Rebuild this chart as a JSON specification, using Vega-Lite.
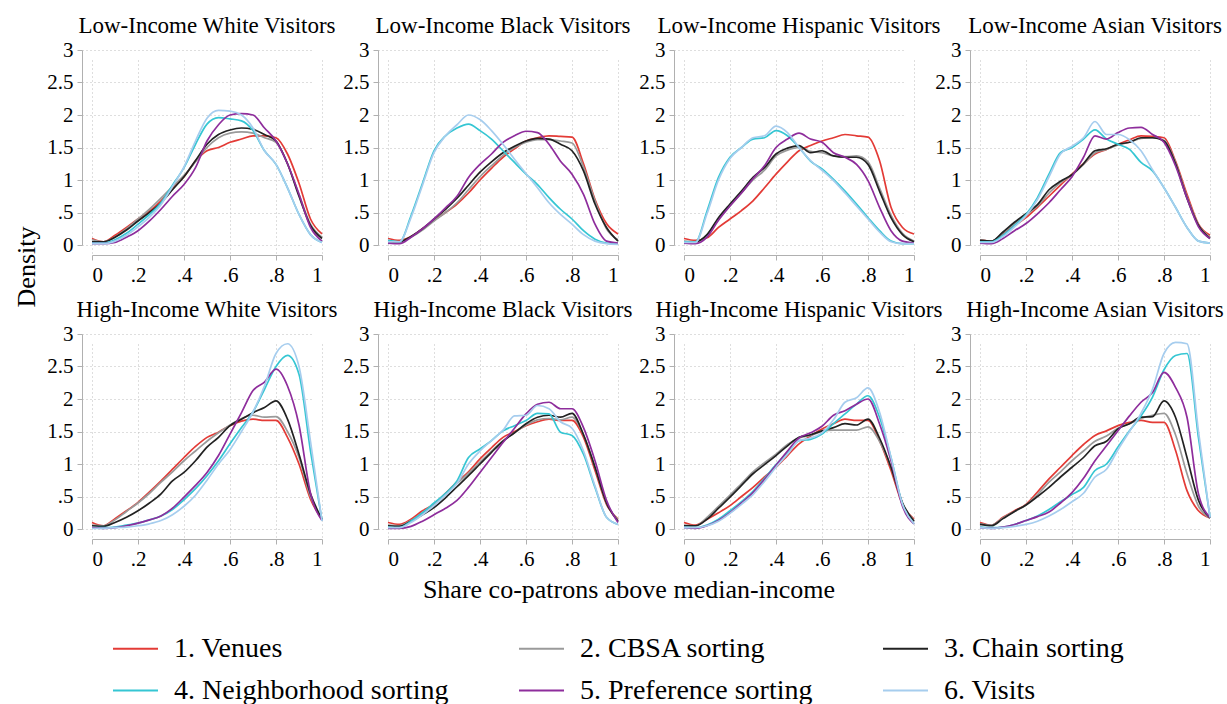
{
"$schema":"https://vega.github.io/schema/vega-lite/v6.json",
"background":"white",
"padding":{"left":12,"top":15,"right":5,"bottom":5},
"config":{"font":"Liberation Serif","view":{"stroke":null},
 "axis":{"title":null,"labelFont":"Liberation Serif","labelFontSize":21,"labelColor":"#000","domainColor":"#b0b0b0","tickColor":"#b0b0b0","tickSize":5,"labelPadding":4,"grid":true,"gridColor":"#bdbdbd","gridDash":[1,3],"offset":10,"format":"~g","labelExpr":"indexof(datum.label,'0.')==0 ? substring(datum.label,1) : datum.label"},
 "legend":{"orient":"none","legendX":100,"legendY":575,"direction":"horizontal","columns":3,"title":null,"symbolType":"stroke","symbolSize":2025,"symbolStrokeWidth":2,"labelFontSize":28,"labelFont":"Liberation Serif","labelColor":"#000","columnPadding":66,"rowPadding":4,"labelOffset":15,"labelLimit":500}
},
"data":{"values":[
{"p":"LW","x":0,"a":0.10,"b":0.08,"c":0.05,"d":0.03,"e":0.02,"f":0.02},
{"p":"LW","x":0.05,"a":0.05,"b":0.05,"c":0.05,"d":0.03,"e":0.02,"f":0.02},
{"p":"LW","x":0.1,"a":0.15,"b":0.12,"c":0.12,"d":0.08,"e":0.04,"f":0.06},
{"p":"LW","x":0.15,"a":0.27,"b":0.25,"c":0.23,"d":0.18,"e":0.12,"f":0.15},
{"p":"LW","x":0.2,"a":0.40,"b":0.40,"c":0.37,"d":0.32,"e":0.22,"f":0.28},
{"p":"LW","x":0.25,"a":0.52,"b":0.55,"c":0.50,"d":0.47,"e":0.37,"f":0.43},
{"p":"LW","x":0.3,"a":0.68,"b":0.72,"c":0.65,"d":0.65,"e":0.55,"f":0.62},
{"p":"LW","x":0.35,"a":0.88,"b":0.90,"c":0.85,"d":0.92,"e":0.75,"f":0.90},
{"p":"LW","x":0.4,"a":1.05,"b":1.07,"c":1.05,"d":1.19,"e":0.93,"f":1.20},
{"p":"LW","x":0.45,"a":1.29,"b":1.28,"c":1.30,"d":1.55,"e":1.19,"f":1.60},
{"p":"LW","x":0.5,"a":1.45,"b":1.50,"c":1.55,"d":1.86,"e":1.60,"f":1.95},
{"p":"LW","x":0.55,"a":1.50,"b":1.65,"c":1.70,"d":1.96,"e":1.85,"f":2.07},
{"p":"LW","x":0.6,"a":1.58,"b":1.72,"c":1.77,"d":1.94,"e":2.00,"f":2.06},
{"p":"LW","x":0.65,"a":1.63,"b":1.74,"c":1.80,"d":1.91,"e":2.02,"f":2.00},
{"p":"LW","x":0.7,"a":1.68,"b":1.72,"c":1.78,"d":1.76,"e":2.00,"f":1.80},
{"p":"LW","x":0.75,"a":1.68,"b":1.65,"c":1.70,"d":1.45,"e":1.80,"f":1.45},
{"p":"LW","x":0.8,"a":1.65,"b":1.58,"c":1.60,"d":1.24,"e":1.60,"f":1.24},
{"p":"LW","x":0.85,"a":1.40,"b":1.25,"c":1.25,"d":0.88,"e":1.25,"f":0.88},
{"p":"LW","x":0.9,"a":0.95,"b":0.78,"c":0.75,"d":0.47,"e":0.78,"f":0.47},
{"p":"LW","x":0.95,"a":0.40,"b":0.32,"c":0.30,"d":0.16,"e":0.27,"f":0.16},
{"p":"LW","x":1,"a":0.17,"b":0.12,"c":0.10,"d":0.04,"e":0.06,"f":0.04},
{"p":"LB","x":0,"a":0.10,"b":0.06,"c":0.05,"d":0.07,"e":0.03,"f":0.05},
{"p":"LB","x":0.05,"a":0.07,"b":0.05,"c":0.05,"d":0.05,"e":0.02,"f":0.05},
{"p":"LB","x":0.1,"a":0.13,"b":0.12,"c":0.13,"d":0.45,"e":0.12,"f":0.42},
{"p":"LB","x":0.15,"a":0.25,"b":0.23,"c":0.25,"d":0.95,"e":0.25,"f":0.92},
{"p":"LB","x":0.2,"a":0.38,"b":0.37,"c":0.40,"d":1.45,"e":0.40,"f":1.42},
{"p":"LB","x":0.25,"a":0.50,"b":0.50,"c":0.55,"d":1.68,"e":0.57,"f":1.68},
{"p":"LB","x":0.3,"a":0.63,"b":0.65,"c":0.72,"d":1.80,"e":0.75,"f":1.85},
{"p":"LB","x":0.35,"a":0.80,"b":0.85,"c":0.92,"d":1.86,"e":1.04,"f":2.00},
{"p":"LB","x":0.4,"a":1.00,"b":1.05,"c":1.12,"d":1.76,"e":1.24,"f":1.93},
{"p":"LB","x":0.45,"a":1.18,"b":1.22,"c":1.28,"d":1.63,"e":1.40,"f":1.76},
{"p":"LB","x":0.5,"a":1.35,"b":1.38,"c":1.42,"d":1.45,"e":1.58,"f":1.55},
{"p":"LB","x":0.55,"a":1.48,"b":1.50,"c":1.52,"d":1.27,"e":1.68,"f":1.32},
{"p":"LB","x":0.6,"a":1.60,"b":1.58,"c":1.60,"d":1.09,"e":1.75,"f":1.10},
{"p":"LB","x":0.65,"a":1.65,"b":1.62,"c":1.64,"d":0.93,"e":1.73,"f":0.88},
{"p":"LB","x":0.7,"a":1.68,"b":1.62,"c":1.63,"d":0.73,"e":1.55,"f":0.65},
{"p":"LB","x":0.75,"a":1.67,"b":1.60,"c":1.55,"d":0.55,"e":1.29,"f":0.47},
{"p":"LB","x":0.8,"a":1.66,"b":1.57,"c":1.45,"d":0.40,"e":1.09,"f":0.32},
{"p":"LB","x":0.85,"a":1.25,"b":1.20,"c":1.14,"d":0.22,"e":0.78,"f":0.16},
{"p":"LB","x":0.9,"a":0.70,"b":0.68,"c":0.63,"d":0.09,"e":0.32,"f":0.06},
{"p":"LB","x":0.95,"a":0.33,"b":0.25,"c":0.27,"d":0.03,"e":0.06,"f":0.02},
{"p":"LB","x":1,"a":0.17,"b":0.08,"c":0.06,"d":0.02,"e":0.03,"f":0.01},
{"p":"LH","x":0,"a":0.10,"b":0.06,"c":0.05,"d":0.05,"e":0.03,"f":0.04},
{"p":"LH","x":0.05,"a":0.07,"b":0.05,"c":0.05,"d":0.05,"e":0.02,"f":0.04},
{"p":"LH","x":0.1,"a":0.11,"b":0.15,"c":0.16,"d":0.52,"e":0.12,"f":0.48},
{"p":"LH","x":0.15,"a":0.27,"b":0.40,"c":0.42,"d":1.04,"e":0.38,"f":1.00},
{"p":"LH","x":0.2,"a":0.40,"b":0.60,"c":0.63,"d":1.35,"e":0.60,"f":1.33},
{"p":"LH","x":0.25,"a":0.53,"b":0.80,"c":0.83,"d":1.50,"e":0.80,"f":1.50},
{"p":"LH","x":0.3,"a":0.68,"b":1.00,"c":1.04,"d":1.63,"e":1.02,"f":1.65},
{"p":"LH","x":0.35,"a":0.88,"b":1.15,"c":1.19,"d":1.65,"e":1.22,"f":1.68},
{"p":"LH","x":0.4,"a":1.09,"b":1.37,"c":1.40,"d":1.76,"e":1.50,"f":1.83},
{"p":"LH","x":0.45,"a":1.28,"b":1.46,"c":1.49,"d":1.68,"e":1.63,"f":1.73},
{"p":"LH","x":0.5,"a":1.45,"b":1.50,"c":1.53,"d":1.50,"e":1.72,"f":1.50},
{"p":"LH","x":0.55,"a":1.53,"b":1.44,"c":1.42,"d":1.29,"e":1.63,"f":1.30},
{"p":"LH","x":0.6,"a":1.60,"b":1.42,"c":1.45,"d":1.17,"e":1.58,"f":1.15},
{"p":"LH","x":0.65,"a":1.65,"b":1.37,"c":1.37,"d":1.01,"e":1.42,"f":0.99},
{"p":"LH","x":0.7,"a":1.70,"b":1.36,"c":1.35,"d":0.83,"e":1.35,"f":0.80},
{"p":"LH","x":0.75,"a":1.68,"b":1.37,"c":1.35,"d":0.63,"e":1.24,"f":0.60},
{"p":"LH","x":0.8,"a":1.66,"b":1.28,"c":1.24,"d":0.42,"e":0.99,"f":0.40},
{"p":"LH","x":0.85,"a":1.30,"b":0.88,"c":0.83,"d":0.22,"e":0.58,"f":0.20},
{"p":"LH","x":0.9,"a":0.58,"b":0.46,"c":0.42,"d":0.06,"e":0.22,"f":0.05},
{"p":"LH","x":0.95,"a":0.27,"b":0.18,"c":0.16,"d":0.02,"e":0.06,"f":0.02},
{"p":"LH","x":1,"a":0.17,"b":0.06,"c":0.05,"d":0.02,"e":0.03,"f":0.02},
{"p":"LA","x":0,"a":0.08,"b":0.08,"c":0.07,"d":0.05,"e":0.03,"f":0.04},
{"p":"LA","x":0.05,"a":0.06,"b":0.06,"c":0.06,"d":0.05,"e":0.02,"f":0.04},
{"p":"LA","x":0.1,"a":0.17,"b":0.19,"c":0.20,"d":0.15,"e":0.10,"f":0.13},
{"p":"LA","x":0.15,"a":0.30,"b":0.33,"c":0.35,"d":0.30,"e":0.22,"f":0.28},
{"p":"LA","x":0.2,"a":0.42,"b":0.46,"c":0.48,"d":0.47,"e":0.33,"f":0.45},
{"p":"LA","x":0.25,"a":0.58,"b":0.60,"c":0.62,"d":0.73,"e":0.48,"f":0.70},
{"p":"LA","x":0.3,"a":0.75,"b":0.80,"c":0.85,"d":1.09,"e":0.65,"f":1.05},
{"p":"LA","x":0.35,"a":0.92,"b":0.96,"c":0.98,"d":1.42,"e":0.85,"f":1.40},
{"p":"LA","x":0.4,"a":1.09,"b":1.08,"c":1.08,"d":1.50,"e":1.05,"f":1.52},
{"p":"LA","x":0.45,"a":1.25,"b":1.24,"c":1.25,"d":1.63,"e":1.35,"f":1.65},
{"p":"LA","x":0.5,"a":1.40,"b":1.42,"c":1.45,"d":1.77,"e":1.68,"f":1.90},
{"p":"LA","x":0.55,"a":1.47,"b":1.47,"c":1.48,"d":1.63,"e":1.63,"f":1.70},
{"p":"LA","x":0.6,"a":1.55,"b":1.54,"c":1.55,"d":1.55,"e":1.73,"f":1.70},
{"p":"LA","x":0.65,"a":1.62,"b":1.58,"c":1.58,"d":1.47,"e":1.80,"f":1.62},
{"p":"LA","x":0.7,"a":1.68,"b":1.64,"c":1.65,"d":1.27,"e":1.81,"f":1.45},
{"p":"LA","x":0.75,"a":1.67,"b":1.65,"c":1.65,"d":1.14,"e":1.70,"f":1.16},
{"p":"LA","x":0.8,"a":1.65,"b":1.61,"c":1.60,"d":0.88,"e":1.58,"f":0.88},
{"p":"LA","x":0.85,"a":1.29,"b":1.27,"c":1.25,"d":0.58,"e":1.22,"f":0.58},
{"p":"LA","x":0.9,"a":0.78,"b":0.74,"c":0.72,"d":0.27,"e":0.72,"f":0.27},
{"p":"LA","x":0.95,"a":0.32,"b":0.31,"c":0.30,"d":0.06,"e":0.28,"f":0.06},
{"p":"LA","x":1,"a":0.15,"b":0.12,"c":0.10,"d":0.03,"e":0.10,"f":0.03},
{"p":"HW","x":0,"a":0.10,"b":0.06,"c":0.05,"d":0.02,"e":0.02,"f":0.01},
{"p":"HW","x":0.05,"a":0.05,"b":0.05,"c":0.04,"d":0.02,"e":0.01,"f":0.01},
{"p":"HW","x":0.1,"a":0.16,"b":0.14,"c":0.10,"d":0.03,"e":0.02,"f":0.02},
{"p":"HW","x":0.15,"a":0.28,"b":0.27,"c":0.18,"d":0.06,"e":0.05,"f":0.03},
{"p":"HW","x":0.2,"a":0.41,"b":0.40,"c":0.28,"d":0.09,"e":0.09,"f":0.05},
{"p":"HW","x":0.25,"a":0.57,"b":0.55,"c":0.40,"d":0.14,"e":0.14,"f":0.08},
{"p":"HW","x":0.3,"a":0.74,"b":0.72,"c":0.54,"d":0.20,"e":0.20,"f":0.13},
{"p":"HW","x":0.35,"a":0.92,"b":0.88,"c":0.74,"d":0.30,"e":0.32,"f":0.22},
{"p":"HW","x":0.4,"a":1.10,"b":1.05,"c":0.87,"d":0.45,"e":0.49,"f":0.35},
{"p":"HW","x":0.45,"a":1.27,"b":1.20,"c":1.05,"d":0.62,"e":0.67,"f":0.52},
{"p":"HW","x":0.5,"a":1.41,"b":1.35,"c":1.26,"d":0.82,"e":0.87,"f":0.75},
{"p":"HW","x":0.55,"a":1.49,"b":1.48,"c":1.41,"d":1.05,"e":1.13,"f":1.00},
{"p":"HW","x":0.6,"a":1.59,"b":1.60,"c":1.59,"d":1.31,"e":1.46,"f":1.22},
{"p":"HW","x":0.65,"a":1.66,"b":1.70,"c":1.69,"d":1.56,"e":1.79,"f":1.50},
{"p":"HW","x":0.7,"a":1.69,"b":1.75,"c":1.79,"d":1.80,"e":2.13,"f":1.80},
{"p":"HW","x":0.75,"a":1.67,"b":1.72,"c":1.87,"d":2.15,"e":2.26,"f":2.20},
{"p":"HW","x":0.8,"a":1.67,"b":1.73,"c":1.97,"d":2.50,"e":2.46,"f":2.70},
{"p":"HW","x":0.85,"a":1.41,"b":1.50,"c":1.69,"d":2.67,"e":2.20,"f":2.85},
{"p":"HW","x":0.9,"a":1.00,"b":1.10,"c":1.15,"d":2.38,"e":1.60,"f":2.50},
{"p":"HW","x":0.95,"a":0.46,"b":0.50,"c":0.54,"d":1.20,"e":0.55,"f":1.35},
{"p":"HW","x":1,"a":0.15,"b":0.15,"c":0.15,"d":0.13,"e":0.13,"f":0.12},
{"p":"HB","x":0,"a":0.10,"b":0.06,"c":0.05,"d":0.03,"e":0.01,"f":0.02},
{"p":"HB","x":0.05,"a":0.07,"b":0.05,"c":0.04,"d":0.02,"e":0.01,"f":0.02},
{"p":"HB","x":0.1,"a":0.15,"b":0.13,"c":0.12,"d":0.12,"e":0.04,"f":0.10},
{"p":"HB","x":0.15,"a":0.28,"b":0.25,"c":0.22,"d":0.25,"e":0.12,"f":0.22},
{"p":"HB","x":0.2,"a":0.38,"b":0.38,"c":0.33,"d":0.40,"e":0.22,"f":0.36},
{"p":"HB","x":0.25,"a":0.55,"b":0.53,"c":0.48,"d":0.55,"e":0.32,"f":0.52},
{"p":"HB","x":0.3,"a":0.72,"b":0.70,"c":0.65,"d":0.74,"e":0.44,"f":0.70},
{"p":"HB","x":0.35,"a":0.88,"b":0.86,"c":0.82,"d":1.10,"e":0.64,"f":1.00},
{"p":"HB","x":0.4,"a":1.08,"b":1.03,"c":1.00,"d":1.23,"e":0.87,"f":1.20},
{"p":"HB","x":0.45,"a":1.25,"b":1.20,"c":1.18,"d":1.36,"e":1.10,"f":1.36},
{"p":"HB","x":0.5,"a":1.41,"b":1.36,"c":1.35,"d":1.51,"e":1.33,"f":1.52},
{"p":"HB","x":0.55,"a":1.50,"b":1.48,"c":1.48,"d":1.59,"e":1.55,"f":1.74},
{"p":"HB","x":0.6,"a":1.59,"b":1.60,"c":1.62,"d":1.67,"e":1.77,"f":1.75},
{"p":"HB","x":0.65,"a":1.65,"b":1.68,"c":1.72,"d":1.78,"e":1.92,"f":1.90},
{"p":"HB","x":0.7,"a":1.69,"b":1.70,"c":1.75,"d":1.77,"e":1.95,"f":1.85},
{"p":"HB","x":0.75,"a":1.67,"b":1.68,"c":1.72,"d":1.49,"e":1.85,"f":1.65},
{"p":"HB","x":0.8,"a":1.67,"b":1.72,"c":1.78,"d":1.44,"e":1.85,"f":1.55},
{"p":"HB","x":0.85,"a":1.41,"b":1.45,"c":1.45,"d":1.15,"e":1.56,"f":1.20},
{"p":"HB","x":0.9,"a":0.90,"b":0.95,"c":0.95,"d":0.64,"e":1.05,"f":0.66},
{"p":"HB","x":0.95,"a":0.38,"b":0.40,"c":0.40,"d":0.18,"e":0.44,"f":0.18},
{"p":"HB","x":1,"a":0.15,"b":0.14,"c":0.12,"d":0.07,"e":0.10,"f":0.07},
{"p":"HH","x":0,"a":0.10,"b":0.06,"c":0.05,"d":0.03,"e":0.02,"f":0.02},
{"p":"HH","x":0.05,"a":0.06,"b":0.05,"c":0.05,"d":0.02,"e":0.01,"f":0.02},
{"p":"HH","x":0.1,"a":0.15,"b":0.18,"c":0.15,"d":0.06,"e":0.05,"f":0.05},
{"p":"HH","x":0.15,"a":0.25,"b":0.35,"c":0.32,"d":0.15,"e":0.13,"f":0.12},
{"p":"HH","x":0.2,"a":0.36,"b":0.52,"c":0.49,"d":0.28,"e":0.25,"f":0.24},
{"p":"HH","x":0.25,"a":0.50,"b":0.70,"c":0.67,"d":0.42,"e":0.40,"f":0.38},
{"p":"HH","x":0.3,"a":0.64,"b":0.88,"c":0.85,"d":0.58,"e":0.56,"f":0.53},
{"p":"HH","x":0.35,"a":0.80,"b":1.02,"c":0.99,"d":0.78,"e":0.76,"f":0.73},
{"p":"HH","x":0.4,"a":0.95,"b":1.15,"c":1.13,"d":0.99,"e":0.98,"f":0.95},
{"p":"HH","x":0.45,"a":1.13,"b":1.30,"c":1.28,"d":1.18,"e":1.20,"f":1.15},
{"p":"HH","x":0.5,"a":1.31,"b":1.40,"c":1.41,"d":1.36,"e":1.40,"f":1.36},
{"p":"HH","x":0.55,"a":1.43,"b":1.44,"c":1.45,"d":1.38,"e":1.48,"f":1.40},
{"p":"HH","x":0.6,"a":1.54,"b":1.50,"c":1.51,"d":1.46,"e":1.58,"f":1.48},
{"p":"HH","x":0.65,"a":1.62,"b":1.52,"c":1.56,"d":1.62,"e":1.75,"f":1.68},
{"p":"HH","x":0.7,"a":1.69,"b":1.52,"c":1.62,"d":1.77,"e":1.82,"f":1.95},
{"p":"HH","x":0.75,"a":1.67,"b":1.52,"c":1.60,"d":1.92,"e":1.92,"f":2.02},
{"p":"HH","x":0.8,"a":1.67,"b":1.57,"c":1.69,"d":2.05,"e":2.00,"f":2.17},
{"p":"HH","x":0.85,"a":1.36,"b":1.35,"c":1.40,"d":1.72,"e":1.62,"f":1.80},
{"p":"HH","x":0.9,"a":0.90,"b":0.95,"c":0.95,"d":1.10,"e":1.05,"f":1.10},
{"p":"HH","x":0.95,"a":0.38,"b":0.40,"c":0.40,"d":0.38,"e":0.35,"f":0.38},
{"p":"HH","x":1,"a":0.15,"b":0.13,"c":0.12,"d":0.08,"e":0.08,"f":0.08},
{"p":"HA","x":0,"a":0.10,"b":0.08,"c":0.07,"d":0.03,"e":0.02,"f":0.02},
{"p":"HA","x":0.05,"a":0.06,"b":0.06,"c":0.05,"d":0.02,"e":0.01,"f":0.01},
{"p":"HA","x":0.1,"a":0.18,"b":0.17,"c":0.16,"d":0.03,"e":0.03,"f":0.02},
{"p":"HA","x":0.15,"a":0.28,"b":0.27,"c":0.27,"d":0.07,"e":0.07,"f":0.04},
{"p":"HA","x":0.2,"a":0.38,"b":0.37,"c":0.37,"d":0.13,"e":0.13,"f":0.07},
{"p":"HA","x":0.25,"a":0.57,"b":0.53,"c":0.50,"d":0.20,"e":0.19,"f":0.12},
{"p":"HA","x":0.3,"a":0.77,"b":0.72,"c":0.64,"d":0.30,"e":0.26,"f":0.20},
{"p":"HA","x":0.35,"a":0.95,"b":0.88,"c":0.80,"d":0.42,"e":0.40,"f":0.30},
{"p":"HA","x":0.4,"a":1.13,"b":1.05,"c":0.95,"d":0.53,"e":0.56,"f":0.42},
{"p":"HA","x":0.45,"a":1.30,"b":1.20,"c":1.10,"d":0.64,"e":0.78,"f":0.55},
{"p":"HA","x":0.5,"a":1.44,"b":1.35,"c":1.28,"d":0.90,"e":1.05,"f":0.80},
{"p":"HA","x":0.55,"a":1.51,"b":1.43,"c":1.35,"d":1.00,"e":1.28,"f":0.92},
{"p":"HA","x":0.6,"a":1.59,"b":1.55,"c":1.54,"d":1.26,"e":1.51,"f":1.22},
{"p":"HA","x":0.65,"a":1.64,"b":1.62,"c":1.62,"d":1.51,"e":1.74,"f":1.50},
{"p":"HA","x":0.7,"a":1.67,"b":1.70,"c":1.72,"d":1.74,"e":1.95,"f":1.78},
{"p":"HA","x":0.75,"a":1.64,"b":1.75,"c":1.73,"d":2.03,"e":2.10,"f":2.15},
{"p":"HA","x":0.8,"a":1.64,"b":1.78,"c":1.97,"d":2.45,"e":2.41,"f":2.70},
{"p":"HA","x":0.85,"a":1.21,"b":1.45,"c":1.72,"d":2.67,"e":2.18,"f":2.87},
{"p":"HA","x":0.9,"a":0.59,"b":0.85,"c":1.10,"d":2.70,"e":1.72,"f":2.85},
{"p":"HA","x":0.95,"a":0.28,"b":0.35,"c":0.44,"d":1.40,"e":0.54,"f":1.50},
{"p":"HA","x":1,"a":0.17,"b":0.17,"c":0.17,"d":0.18,"e":0.18,"f":0.18}
]},
"resolve":{"scale":{"color":"shared"},"legend":{"color":"shared"}},
"spacing":4,
"hconcat":[
 {"width":30,"height":434,"data":{"values":[{"t":"Density"}]},
  "mark":{"type":"text","angle":270,"fontSize":26,"font":"Liberation Serif","color":"#000"},
  "encoding":{"text":{"field":"t","type":"nominal"}}},
 {"resolve":{"scale":{"color":"shared"},"legend":{"color":"shared"}},
  "spacing":6,
  "vconcat":[
  {"facet":{"field":"p","type":"nominal","sort":["LW","LB","LH","LA","HW","HB","HH","HA"],
    "header":{"title":null,"labelFont":"Liberation Serif","labelFontSize":23,"labelColor":"#000","labelPadding":1,"labelLimit":500,
     "labelExpr":"datum.value=='LW'?'Low-Income White Visitors':datum.value=='LB'?'Low-Income Black Visitors':datum.value=='LH'?'Low-Income Hispanic Visitors':datum.value=='LA'?'Low-Income Asian Visitors':datum.value=='HW'?'High-Income White Visitors':datum.value=='HB'?'High-Income Black Visitors':datum.value=='HH'?'High-Income Hispanic Visitors':'High-Income Asian Visitors'"}},
   "columns":4,
   "bounds":"flush",
   "spacing":{"column":66,"row":89},
   "resolve":{"axis":{"x":"independent","y":"independent"}},
   "transform":[{"fold":["a","b","c","d","e","f"],"as":["s","v"]}],
   "spec":{"width":230,"height":195,
    "mark":{"type":"line","strokeWidth":1.7,"interpolate":"monotone"},
    "encoding":{
     "x":{"field":"x","type":"quantitative","scale":{"domain":[0,1],"nice":false},"axis":{"values":[0,0.2,0.4,0.6,0.8,1]}},
     "y":{"field":"v","type":"quantitative","scale":{"domain":[0,3],"nice":false},"axis":{"values":[0,0.5,1,1.5,2,2.5,3]}},
     "color":{"field":"s","type":"nominal","scale":{"domain":["a","b","c","d","e","f"],"range":["#e33b36","#9a9a9a","#222222","#35c6d3","#8e2d9c","#a6cdee"]},
      "legend":{"labelExpr":"datum.label=='a'?'1. Venues':datum.label=='b'?'2. CBSA sorting':datum.label=='c'?'3. Chain sorting':datum.label=='d'?'4. Neighborhood sorting':datum.label=='e'?'5. Preference sorting':'6. Visits'"}}
    }}},
  {"width":1074,"height":30,"data":{"values":[{"t":"Share co-patrons above median-income"}]},
   "mark":{"type":"text","fontSize":26,"font":"Liberation Serif","color":"#000"},
   "encoding":{"text":{"field":"t","type":"nominal"}}}
 ]}
]
}
